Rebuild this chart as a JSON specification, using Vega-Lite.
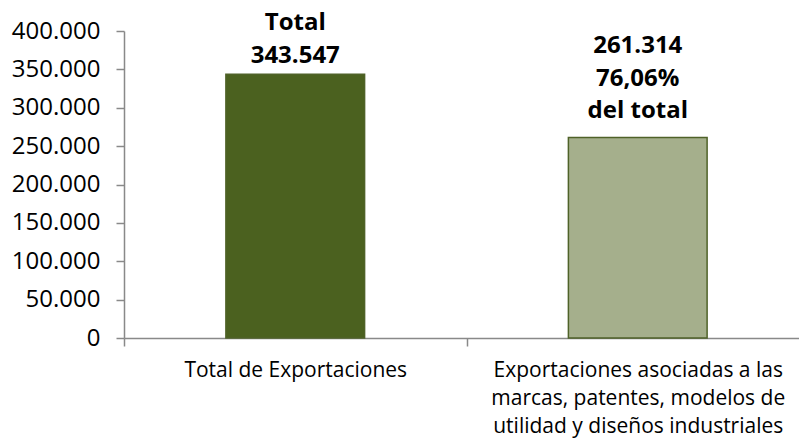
{
  "$schema": "https://vega.github.io/schema/vega-lite/v6.json",
  "autosize": {"type": "none"},
  "width": 675,
  "height": 307,
  "padding": {"left": 124, "top": 31, "right": 0, "bottom": 100},
  "background": "white",
  "config": {
    "view": {"stroke": null},
    "locale": {"number": {"decimal": ",", "thousands": ".", "grouping": [3], "currency": ["", ""]}},
    "font": "Open Sans"
  },
  "data": {
    "values": [
      {"categoria": "Total de Exportaciones", "valor": 343547, "etiqueta": ["Total", "343.547"]},
      {"categoria": "Exportaciones asociadas a las marcas, patentes, modelos de utilidad y diseños industriales", "valor": 261314, "etiqueta": ["261.314", "76,06%", "del total"]}
    ]
  },
  "encoding": {
    "x": {
      "field": "categoria",
      "type": "nominal",
      "sort": null,
      "scale": {"range": [0, 685], "paddingInner": 0, "paddingOuter": 0},
      "axis": {
        "title": null,
        "labelAngle": 0,
        "tickBand": "extent",
        "domainColor": "#898989",
        "domainWidth": 1.5,
        "tickColor": "#898989",
        "tickWidth": 1.5,
        "tickSize": 8,
        "labelFont": "Open Sans",
        "labelFontSize": 21,
        "labelColor": "#000000",
        "labelPadding": 13,
        "labelLineHeight": 28,
        "labelLimit": 400,
        "labelBaseline": "top",
        "labelExpr": "datum.value == 'Total de Exportaciones' ? 'Total de Exportaciones' : datum.value == 'Exportaciones asociadas a las marcas, patentes, modelos de utilidad y diseños industriales' ? ['Exportaciones asociadas a las', 'marcas, patentes, modelos de', 'utilidad y diseños industriales'] : ''"
      }
    },
    "y": {
      "field": "valor",
      "type": "quantitative",
      "scale": {"domain": [0, 400000], "nice": false},
      "axis": {
        "title": null,
        "grid": false,
        "values": [0, 50000, 100000, 150000, 200000, 250000, 300000, 350000, 400000],
        "format": ",d",
        "domainColor": "#898989",
        "domainWidth": 1.5,
        "tickColor": "#898989",
        "tickWidth": 1.5,
        "tickSize": 8,
        "labelFont": "Open Sans",
        "labelFontSize": 24,
        "labelColor": "#000000",
        "labelPadding": 16
      }
    }
  },
  "layer": [
    {
      "mark": {"type": "bar", "width": {"band": 0.405}, "stroke": "#4F6228", "strokeWidth": 1.5},
      "encoding": {
        "color": {
          "field": "categoria",
          "type": "nominal",
          "scale": {"domain": ["Total de Exportaciones", "Exportaciones asociadas a las marcas, patentes, modelos de utilidad y diseños industriales"], "range": ["#4B611F", "#A5AF8C"]},
          "legend": null
        }
      }
    },
    {
      "transform": [{"filter": "datum.categoria == 'Total de Exportaciones'"}],
      "mark": {"type": "text", "font": "Open Sans", "fontSize": 24, "fontWeight": "bold", "color": "#000000", "baseline": "alphabetic", "lineHeight": 33, "dy": -44},
      "encoding": {"text": {"field": "etiqueta"}}
    },
    {
      "transform": [{"filter": "datum.categoria != 'Total de Exportaciones'"}],
      "mark": {"type": "text", "font": "Open Sans", "fontSize": 24, "fontWeight": "bold", "color": "#000000", "baseline": "alphabetic", "lineHeight": 32.5, "dy": -84},
      "encoding": {"text": {"field": "etiqueta"}}
    }
  ]
}
